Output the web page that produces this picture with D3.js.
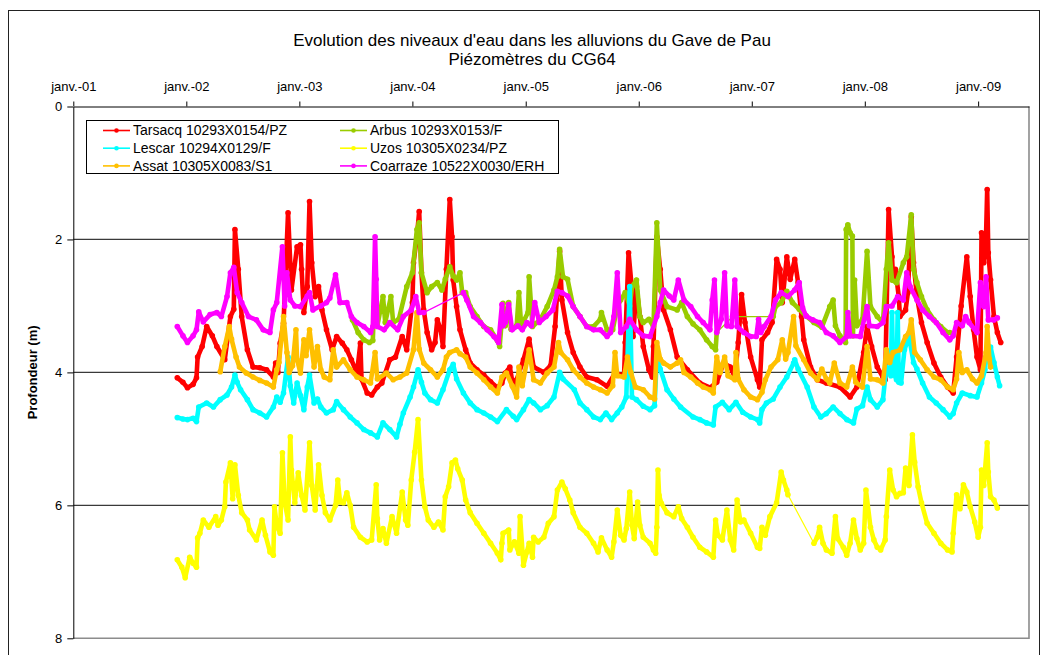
<!DOCTYPE html>
<html>
<head>
<meta charset="utf-8">
<script src="https://cdn.jsdelivr.net/npm/d3@7"></script>
<style>
  html, body { margin: 0; padding: 0; background: #fff; }
  svg { display: block; font-family: "Liberation Sans", Arial, Helvetica, sans-serif; }
</style>
</head>
<body>
<svg id="chart" width="1045" height="655"></svg>
<script>
// ---- Texts ----
const titleLines = ["Evolution des niveaux d'eau dans les alluvions du Gave de Pau", "Piézomètres du CG64"];
const yAxisTitle = "Profondeur (m)";
const xTickLabels = ["janv.-01", "janv.-02", "janv.-03", "janv.-04", "janv.-05", "janv.-06", "janv.-07", "janv.-08", "janv.-09"];
const yTickValues = [0, 2, 4, 6, 8];
const stationNames = ["Tarsacq 10293X0154/PZ", "Arbus 10293X0153/F", "Lescar 10294X0129/F",
                      "Uzos 10305X0234/PZ", "Assat 10305X0083/S1", "Coarraze 10522X0030/ERH"];

// ---- Depth to water (m below ground), [decimal year, depth] ----
const tarsacq = [[2001.92,4.08],[2001.97,4.15],[2002.01,4.23],[2002.06,4.18],[2002.09,4.08],[2002.10,3.77],[2002.14,3.61],[2002.18,3.31],[2002.23,3.45],[2002.27,3.61],[2002.34,3.81],[2002.39,3.16],[2002.42,3.05],[2002.43,1.85],[2002.46,2.45],[2002.49,3.16],[2002.54,3.66],[2002.59,3.92],[2002.65,3.93],[2002.71,3.96],[2002.77,4.07],[2002.79,3.86],[2002.81,4.00],[2002.83,3.56],[2002.86,3.26],[2002.90,1.60],[2002.93,2.76],[2002.98,2.11],[2003.01,2.08],[2003.02,2.45],[2003.04,3.10],[2003.07,2.71],[2003.09,1.43],[2003.11,2.35],[2003.14,2.86],[2003.17,2.71],[2003.20,3.06],[2003.24,3.36],[2003.29,3.66],[2003.33,3.46],[2003.38,3.56],[2003.42,3.66],[2003.46,3.81],[2003.51,4.01],[2003.54,3.56],[2003.55,4.10],[2003.60,4.31],[2003.64,4.34],[2003.69,4.22],[2003.73,4.16],[2003.80,3.81],[2003.85,3.77],[2003.91,3.46],[2003.95,3.66],[2004.00,2.95],[2004.01,2.35],[2004.04,1.96],[2004.06,1.58],[2004.08,2.50],[2004.10,3.06],[2004.13,3.40],[2004.17,3.66],[2004.20,3.55],[2004.22,3.21],[2004.25,3.36],[2004.27,3.61],[2004.30,2.45],[2004.33,1.40],[2004.35,1.96],[2004.36,2.61],[2004.39,3.01],[2004.42,3.36],[2004.47,3.66],[2004.51,3.86],[2004.57,3.96],[2004.63,4.04],[2004.69,4.14],[2004.75,4.23],[2004.79,4.16],[2004.82,4.01],[2004.86,3.92],[2004.89,4.22],[2004.92,4.11],[2004.98,3.81],[2005.03,3.50],[2005.07,3.92],[2005.16,4.00],[2005.22,3.90],[2005.26,3.31],[2005.30,2.18],[2005.32,2.91],[2005.37,3.40],[2005.42,3.70],[2005.48,3.92],[2005.54,4.07],[2005.63,4.11],[2005.72,4.21],[2005.79,4.01],[2005.87,4.05],[2005.88,3.55],[2005.91,2.20],[2005.94,2.76],[2005.95,3.46],[2005.98,2.71],[2006.01,3.16],[2006.04,3.61],[2006.09,3.96],[2006.12,4.07],[2006.13,3.61],[2006.16,1.96],[2006.19,2.45],[2006.22,3.06],[2006.28,3.36],[2006.34,3.77],[2006.43,3.96],[2006.54,4.16],[2006.63,4.23],[2006.69,4.15],[2006.75,3.86],[2006.81,3.92],[2006.85,4.07],[2006.88,3.55],[2006.91,2.83],[2006.94,3.25],[2006.99,3.77],[2007.05,4.11],[2007.07,4.22],[2007.09,3.51],[2007.14,3.40],[2007.18,3.25],[2007.22,2.30],[2007.25,2.45],[2007.27,2.95],[2007.31,2.26],[2007.34,2.60],[2007.38,2.30],[2007.41,2.65],[2007.44,3.16],[2007.46,3.51],[2007.52,3.92],[2007.58,4.11],[2007.66,4.16],[2007.78,4.22],[2007.87,4.37],[2007.93,4.22],[2007.99,3.70],[2008.02,3.31],[2008.06,3.61],[2008.11,3.92],[2008.16,4.07],[2008.18,4.11],[2008.21,1.55],[2008.24,2.26],[2008.25,2.61],[2008.27,2.45],[2008.30,2.86],[2008.31,3.16],[2008.36,3.06],[2008.38,2.80],[2008.41,1.66],[2008.43,2.35],[2008.46,2.86],[2008.50,3.25],[2008.55,3.55],[2008.61,3.86],[2008.67,4.07],[2008.73,4.22],[2008.78,4.31],[2008.81,3.77],[2008.85,3.00],[2008.90,2.26],[2008.93,2.86],[2008.96,3.36],[2008.99,3.77],[2009.02,3.96],[2009.03,1.90],[2009.05,2.35],[2009.07,1.95],[2009.08,1.25],[2009.09,2.20],[2009.11,2.61],[2009.14,3.16],[2009.17,3.40],[2009.20,3.55]];

const arbus = [[2003.47,3.21],[2003.52,3.40],[2003.57,3.51],[2003.62,3.55],[2003.65,3.52],[2003.67,2.55],[2003.69,3.30],[2003.74,2.86],[2003.76,3.25],[2003.81,2.86],[2003.83,3.25],[2003.88,3.20],[2003.95,2.71],[2004.00,2.50],[2004.04,1.85],[2004.06,1.75],[2004.08,2.50],[2004.13,2.80],[2004.17,2.71],[2004.22,2.65],[2004.26,2.76],[2004.29,2.60],[2004.33,2.41],[2004.36,2.55],[2004.39,2.61],[2004.42,2.50],[2004.44,2.80],[2004.47,2.80],[2004.51,3.01],[2004.57,3.16],[2004.63,3.31],[2004.69,3.36],[2004.75,3.52],[2004.77,3.61],[2004.79,3.20],[2004.80,2.96],[2004.82,3.30],[2004.85,2.95],[2004.87,3.35],[2004.92,3.30],[2004.94,2.80],[2004.96,3.30],[2005.02,3.10],[2005.03,2.56],[2005.06,3.31],[2005.13,3.20],[2005.19,3.01],[2005.25,2.76],[2005.28,2.56],[2005.30,2.15],[2005.33,2.56],[2005.37,2.60],[2005.42,3.01],[2005.48,3.16],[2005.54,3.31],[2005.60,3.31],[2005.66,3.20],[2005.67,3.10],[2005.72,3.36],[2005.77,3.36],[2005.81,3.01],[2005.84,2.91],[2005.88,2.80],[2005.92,3.00],[2005.94,2.71],[2005.98,2.61],[2006.01,3.16],[2006.04,3.25],[2006.09,3.20],[2006.13,3.31],[2006.16,1.75],[2006.19,2.76],[2006.25,3.01],[2006.34,3.06],[2006.38,2.95],[2006.43,3.16],[2006.48,3.27],[2006.54,3.36],[2006.60,3.51],[2006.65,3.61],[2006.68,3.66],[2006.69,3.40],[2006.83,3.16],[2007.19,3.16],[2007.21,3.01],[2007.26,2.95],[2007.31,2.78],[2007.36,2.95],[2007.42,3.05],[2007.48,3.15],[2007.55,3.25],[2007.62,3.32],[2007.69,3.01],[2007.72,2.91],[2007.74,3.30],[2007.78,3.45],[2007.83,3.55],[2007.835,1.85],[2007.85,1.78],[2007.87,1.90],[2007.89,1.95],[2007.895,3.45],[2007.91,2.61],[2007.93,3.30],[2007.98,3.20],[2008.02,2.18],[2008.05,3.01],[2008.11,3.16],[2008.16,3.25],[2008.19,2.45],[2008.21,2.05],[2008.24,2.61],[2008.28,2.65],[2008.34,2.35],[2008.37,2.26],[2008.41,1.63],[2008.43,2.45],[2008.46,2.65],[2008.50,2.86],[2008.55,3.06],[2008.61,3.21],[2008.67,3.31],[2008.73,3.40],[2008.75,3.40]];

const lescar = [[2001.92,4.68],[2001.97,4.70],[2002.01,4.71],[2002.06,4.69],[2002.09,4.74],[2002.11,4.52],[2002.18,4.46],[2002.24,4.52],[2002.30,4.41],[2002.36,4.34],[2002.40,4.22],[2002.43,4.04],[2002.45,4.15],[2002.48,4.26],[2002.54,4.41],[2002.59,4.56],[2002.65,4.61],[2002.71,4.67],[2002.77,4.52],[2002.80,4.37],[2002.83,4.45],[2002.86,4.31],[2002.90,3.77],[2002.92,4.20],[2002.95,4.46],[2002.98,4.16],[2003.01,4.35],[2003.04,4.56],[2003.07,4.22],[2003.09,4.04],[2003.13,4.46],[2003.16,4.40],[2003.19,4.52],[2003.24,4.61],[2003.30,4.56],[2003.33,4.44],[2003.39,4.56],[2003.45,4.67],[2003.51,4.76],[2003.57,4.86],[2003.63,4.91],[2003.69,4.97],[2003.74,4.76],[2003.80,4.86],[2003.86,4.97],[2003.89,4.78],[2003.92,4.61],[2003.98,4.37],[2004.01,4.22],[2004.05,3.96],[2004.08,4.15],[2004.11,4.31],[2004.16,4.41],[2004.22,4.46],[2004.27,4.26],[2004.33,3.96],[2004.36,3.88],[2004.39,4.10],[2004.45,4.31],[2004.51,4.46],[2004.57,4.56],[2004.63,4.61],[2004.69,4.67],[2004.75,4.74],[2004.83,4.56],[2004.89,4.66],[2004.92,4.71],[2004.98,4.56],[2005.03,4.41],[2005.07,4.46],[2005.13,4.56],[2005.19,4.50],[2005.25,4.37],[2005.30,4.00],[2005.33,4.10],[2005.43,4.26],[2005.48,4.46],[2005.54,4.56],[2005.60,4.67],[2005.66,4.71],[2005.71,4.61],[2005.76,4.71],[2005.81,4.61],[2005.85,4.52],[2005.89,4.37],[2005.92,2.71],[2005.94,4.37],[2005.98,4.41],[2006.04,4.51],[2006.10,4.56],[2006.14,4.50],[2006.16,3.77],[2006.19,3.95],[2006.25,4.26],[2006.31,4.40],[2006.37,4.52],[2006.48,4.67],[2006.54,4.71],[2006.60,4.76],[2006.66,4.79],[2006.68,4.52],[2006.74,4.45],[2006.80,4.56],[2006.86,4.45],[2006.92,4.60],[2006.99,4.67],[2007.05,4.71],[2007.07,4.76],[2007.09,4.56],[2007.13,4.46],[2007.19,4.40],[2007.25,4.22],[2007.31,4.07],[2007.37,3.86],[2007.38,3.81],[2007.41,3.95],[2007.49,4.22],[2007.55,4.52],[2007.61,4.67],[2007.66,4.62],[2007.72,4.52],[2007.78,4.62],[2007.84,4.71],[2007.90,4.76],[2007.93,4.55],[2007.98,4.50],[2008.02,4.22],[2008.05,4.41],[2008.11,4.52],[2008.16,4.41],[2008.19,3.92],[2008.23,4.05],[2008.24,3.10],[2008.25,4.00],[2008.28,4.11],[2008.29,3.10],[2008.30,4.15],[2008.32,4.16],[2008.35,3.66],[2008.39,3.46],[2008.43,3.85],[2008.46,3.95],[2008.51,4.16],[2008.57,4.37],[2008.63,4.46],[2008.69,4.56],[2008.75,4.67],[2008.78,4.62],[2008.81,4.46],[2008.86,4.31],[2008.93,4.35],[2008.99,4.37],[2009.03,4.16],[2009.06,3.96],[2009.08,3.66],[2009.11,3.62],[2009.14,3.85],[2009.17,4.07],[2009.19,4.20]];

const uzos = [[2001.92,6.82],[2001.96,6.93],[2001.99,7.09],[2002.03,6.78],[2002.06,6.87],[2002.09,6.93],[2002.10,6.49],[2002.12,6.42],[2002.15,6.22],[2002.20,6.33],[2002.26,6.17],[2002.28,6.30],[2002.31,6.22],[2002.34,6.02],[2002.35,5.65],[2002.39,5.36],[2002.41,5.90],[2002.43,5.39],[2002.46,5.85],[2002.49,6.11],[2002.54,6.22],[2002.56,6.37],[2002.62,6.52],[2002.67,6.22],[2002.70,6.45],[2002.74,6.70],[2002.77,6.75],[2002.78,6.02],[2002.80,6.30],[2002.83,6.42],[2002.85,5.21],[2002.87,5.95],[2002.90,6.22],[2002.92,4.97],[2002.93,5.47],[2002.96,5.96],[2002.99,5.51],[2003.02,5.85],[2003.05,6.07],[2003.09,5.06],[2003.11,5.70],[2003.14,6.07],[2003.17,5.39],[2003.20,5.85],[2003.23,6.11],[2003.27,6.22],[2003.32,6.00],[2003.34,5.62],[2003.36,5.95],[2003.39,5.96],[2003.42,5.81],[2003.45,6.00],[2003.48,6.33],[2003.54,6.48],[2003.60,6.55],[2003.64,6.52],[2003.68,5.69],[2003.69,6.20],[2003.71,6.52],[2003.74,6.35],[2003.77,6.57],[2003.82,6.17],[2003.86,6.42],[2003.91,5.80],[2003.94,6.22],[2003.96,6.30],[2003.99,5.62],[2004.02,5.20],[2004.05,4.71],[2004.08,5.62],[2004.11,6.02],[2004.14,6.22],[2004.19,6.33],[2004.23,6.25],[2004.27,6.37],[2004.29,5.87],[2004.32,5.72],[2004.35,5.36],[2004.38,5.32],[2004.40,5.45],[2004.44,5.62],[2004.47,5.92],[2004.51,6.11],[2004.57,6.27],[2004.63,6.42],[2004.69,6.57],[2004.75,6.72],[2004.78,6.82],[2004.79,6.57],[2004.80,6.42],[2004.85,6.37],[2004.86,6.67],[2004.90,6.55],[2004.94,6.72],[2004.95,6.17],[2004.98,6.90],[2005.01,6.70],[2005.03,6.57],[2005.06,6.78],[2005.07,6.48],[2005.11,6.55],[2005.16,6.48],[2005.20,6.27],[2005.25,6.17],[2005.28,5.77],[2005.32,5.65],[2005.35,5.75],[2005.39,5.92],[2005.42,6.11],[2005.48,6.33],[2005.54,6.42],[2005.60,6.57],[2005.64,6.70],[2005.67,6.49],[2005.72,6.67],[2005.76,6.78],[2005.78,6.55],[2005.81,6.07],[2005.84,6.45],[2005.87,6.52],[2005.89,6.35],[2005.92,5.80],[2005.94,6.30],[2005.96,6.50],[2005.99,5.95],[2006.01,6.30],[2006.04,6.48],[2006.10,6.57],[2006.13,6.67],[2006.15,6.72],[2006.16,6.33],[2006.17,5.47],[2006.18,5.85],[2006.20,5.97],[2006.25,6.11],[2006.31,6.17],[2006.35,6.02],[2006.38,6.20],[2006.43,6.33],[2006.48,6.48],[2006.54,6.63],[2006.60,6.70],[2006.66,6.78],[2006.68,6.22],[2006.70,6.45],[2006.74,6.52],[2006.78,6.07],[2006.81,6.52],[2006.84,6.67],[2006.87,5.92],[2006.90,6.25],[2006.93,6.22],[2006.99,6.42],[2007.05,6.63],[2007.07,6.65],[2007.09,6.33],[2007.12,6.45],[2007.16,6.17],[2007.22,5.96],[2007.26,5.50],[2007.28,5.62],[2007.31,5.77],[2007.32,5.84],[2007.55,6.57],[2007.58,6.48],[2007.60,6.33],[2007.63,6.57],[2007.66,6.67],[2007.71,6.72],[2007.74,6.17],[2007.76,6.50],[2007.81,6.63],[2007.84,6.75],[2007.87,6.57],[2007.90,6.22],[2007.93,6.50],[2007.96,6.67],[2007.99,6.57],[2008.01,5.77],[2008.05,6.33],[2008.08,6.52],[2008.11,6.63],[2008.14,6.67],[2008.18,6.52],[2008.19,6.17],[2008.22,5.47],[2008.25,5.77],[2008.28,5.87],[2008.31,5.82],[2008.34,5.81],[2008.36,5.44],[2008.39,5.70],[2008.42,4.94],[2008.44,5.35],[2008.47,5.72],[2008.50,5.96],[2008.55,6.27],[2008.61,6.42],[2008.67,6.57],[2008.73,6.67],[2008.77,6.70],[2008.78,6.42],[2008.81,5.84],[2008.84,6.05],[2008.87,5.69],[2008.90,5.80],[2008.93,6.02],[2008.97,6.25],[2009.00,6.48],[2009.02,6.33],[2009.03,5.47],[2009.05,5.70],[2009.08,5.06],[2009.09,5.50],[2009.11,5.87],[2009.14,5.92],[2009.17,6.04]];

const assat = [[2002.30,3.99],[2002.34,3.61],[2002.38,3.31],[2002.40,3.50],[2002.44,3.77],[2002.47,3.92],[2002.53,4.01],[2002.59,4.07],[2002.65,4.12],[2002.71,4.16],[2002.77,4.22],[2002.80,3.96],[2002.82,3.85],[2002.86,3.16],[2002.89,3.70],[2002.91,4.00],[2002.94,3.90],[2002.97,3.36],[2002.98,3.81],[2003.01,4.01],[2003.04,3.51],[2003.06,3.75],[2003.09,3.36],[2003.13,3.92],[2003.16,3.61],[2003.19,3.96],[2003.22,4.07],[2003.27,4.11],[2003.30,3.66],[2003.33,3.92],[2003.39,3.81],[2003.45,3.96],[2003.51,4.07],[2003.57,4.11],[2003.63,4.16],[2003.67,3.70],[2003.69,4.10],[2003.77,4.01],[2003.83,4.11],[2003.89,4.07],[2003.95,4.01],[2004.01,3.66],[2004.04,3.10],[2004.06,3.65],[2004.10,3.86],[2004.16,3.96],[2004.22,4.07],[2004.27,3.96],[2004.30,3.77],[2004.33,3.70],[2004.39,3.66],[2004.42,3.72],[2004.47,3.77],[2004.51,3.92],[2004.57,4.01],[2004.63,4.11],[2004.69,4.22],[2004.75,4.31],[2004.79,4.07],[2004.83,4.01],[2004.88,4.20],[2004.92,4.37],[2004.94,3.92],[2004.97,4.20],[2005.03,3.66],[2005.07,4.11],[2005.13,4.16],[2005.19,4.01],[2005.25,3.92],[2005.29,3.55],[2005.31,3.70],[2005.37,3.81],[2005.42,3.96],[2005.48,4.07],[2005.54,4.16],[2005.60,4.22],[2005.66,4.26],[2005.72,4.31],[2005.77,4.20],[2005.79,3.70],[2005.81,4.05],[2005.87,4.07],[2005.90,3.77],[2005.93,4.00],[2005.97,4.22],[2006.04,4.26],[2006.10,4.37],[2006.14,4.40],[2006.16,3.55],[2006.19,3.80],[2006.22,3.86],[2006.28,3.92],[2006.34,3.86],[2006.37,3.81],[2006.40,4.00],[2006.46,4.07],[2006.52,4.16],[2006.57,4.22],[2006.63,4.26],[2006.66,4.31],[2006.69,3.77],[2006.72,4.00],[2006.76,3.77],[2006.79,4.05],[2006.85,4.11],[2006.86,3.70],[2006.88,4.10],[2006.93,4.26],[2006.99,4.37],[2007.05,4.41],[2007.09,4.30],[2007.12,4.11],[2007.17,3.92],[2007.23,3.81],[2007.27,3.51],[2007.30,3.80],[2007.32,3.70],[2007.37,3.16],[2007.39,3.60],[2007.46,3.81],[2007.52,4.01],[2007.58,4.11],[2007.62,3.95],[2007.66,4.10],[2007.69,4.16],[2007.73,3.86],[2007.78,4.16],[2007.84,4.22],[2007.89,3.92],[2007.92,4.15],[2007.98,4.22],[2008.02,3.61],[2008.05,4.10],[2008.11,4.11],[2008.16,4.16],[2008.19,3.66],[2008.22,3.85],[2008.25,3.70],[2008.31,3.66],[2008.36,3.46],[2008.39,3.40],[2008.41,3.21],[2008.44,3.70],[2008.49,3.81],[2008.55,3.96],[2008.61,4.07],[2008.67,4.11],[2008.73,4.22],[2008.78,4.26],[2008.81,4.10],[2008.83,3.70],[2008.86,4.00],[2008.90,3.96],[2008.95,4.10],[2008.99,4.16],[2009.03,4.05],[2009.07,3.70],[2009.08,3.31],[2009.10,3.80],[2009.11,3.92]];

const coarraze = [[2001.92,3.31],[2001.97,3.45],[2002.01,3.55],[2002.06,3.45],[2002.09,3.36],[2002.11,3.09],[2002.15,3.24],[2002.21,3.13],[2002.27,3.10],[2002.31,3.16],[2002.36,2.86],[2002.39,2.50],[2002.42,2.42],[2002.45,2.80],[2002.49,2.95],[2002.55,3.16],[2002.62,3.21],[2002.68,3.36],[2002.74,3.40],[2002.77,3.06],[2002.80,2.95],[2002.85,2.11],[2002.87,3.00],[2002.89,2.50],[2002.92,2.91],[2002.96,3.00],[2003.01,3.01],[2003.07,2.85],[2003.09,2.80],[2003.12,3.06],[2003.19,3.00],[2003.24,2.95],[2003.27,2.88],[2003.32,2.53],[2003.36,2.95],[2003.42,2.95],[2003.46,3.16],[2003.51,3.25],[2003.57,3.31],[2003.63,3.40],[2003.65,3.31],[2003.67,1.96],[2003.68,2.60],[2003.69,3.31],[2003.75,3.36],[2003.80,3.25],[2003.87,3.36],[2003.92,3.16],[2003.99,3.06],[2004.03,2.86],[2004.06,3.10],[2004.10,3.10],[2004.45,2.80],[2004.48,2.91],[2004.54,3.16],[2004.60,3.25],[2004.66,3.36],[2004.72,3.46],[2004.76,3.55],[2004.79,2.98],[2004.80,3.30],[2004.82,3.25],[2004.85,2.98],[2004.88,3.36],[2004.93,3.30],[2004.97,3.36],[2005.01,3.25],[2005.05,3.30],[2005.08,2.95],[2005.12,3.25],[2005.18,3.16],[2005.24,3.06],[2005.28,2.78],[2005.32,2.80],[2005.37,2.85],[2005.42,3.01],[2005.48,3.16],[2005.54,3.31],[2005.60,3.36],[2005.66,3.36],[2005.72,3.46],[2005.75,3.40],[2005.78,3.16],[2005.81,2.50],[2005.84,3.40],[2005.89,3.31],[2005.92,3.20],[2005.98,3.36],[2006.04,3.45],[2006.10,3.46],[2006.16,3.16],[2006.19,2.95],[2006.22,2.76],[2006.27,2.85],[2006.31,2.91],[2006.35,2.61],[2006.40,2.91],[2006.46,3.01],[2006.52,3.16],[2006.57,3.25],[2006.63,3.36],[2006.65,2.91],[2006.67,2.61],[2006.69,3.40],[2006.73,3.20],[2006.76,2.50],[2006.78,3.30],[2006.82,3.31],[2006.85,2.61],[2006.87,3.31],[2006.93,3.40],[2006.99,3.46],[2007.04,3.46],[2007.06,3.20],[2007.08,3.40],[2007.11,3.31],[2007.17,3.16],[2007.21,2.91],[2007.26,2.80],[2007.32,2.86],[2007.38,2.76],[2007.42,2.65],[2007.45,3.03],[2007.48,3.15],[2007.54,3.21],[2007.60,3.25],[2007.66,3.40],[2007.72,3.45],[2007.78,3.55],[2007.84,3.46],[2007.85,3.10],[2007.87,3.45],[2007.96,3.46],[2008.02,3.01],[2008.04,3.30],[2008.11,3.31],[2008.16,3.25],[2008.19,3.01],[2008.24,3.00],[2008.29,2.86],[2008.34,2.91],[2008.37,2.50],[2008.40,2.71],[2008.46,2.91],[2008.51,3.06],[2008.57,3.16],[2008.63,3.25],[2008.69,3.40],[2008.75,3.51],[2008.78,3.45],[2008.81,3.25],[2008.86,3.30],[2008.89,3.16],[2008.92,3.25],[2008.99,3.40],[2009.02,2.65],[2009.05,3.01],[2009.07,2.56],[2009.09,3.21],[2009.14,3.21],[2009.17,3.18]];

// Series in plotting order (later ones drawn on top)
const seriesValues = [tarsacq, arbus, lescar, uzos, assat, coarraze];

// ---- Styling ----
const seriesColours = ["#FF0000", "#99CC00", "#00FFFF", "#FFFF00", "#FFC000", "#FF00FF"];
const W = 1045, H = 655;
const plot = { left: 73.3, right: 1029, top: 106.5, bottom: 638.3 };
const gapYears = 0.13;   // longer intervals are treated as missing records

function fromDecimalYear(t) {
  const y = Math.floor(t);
  const a = Date.UTC(y, 0, 1), b = Date.UTC(y + 1, 0, 1);
  return new Date(a + (t - y) * (b - a));
}

const svg = d3.select("#chart");
svg.append("rect").attr("width", W).attr("height", H).attr("fill", "#fff");

// Outer chart frame
svg.append("rect")
  .attr("x", 8.5).attr("y", 10.5).attr("width", 1031).attr("height", 700)
  .attr("fill", "none").attr("stroke", "#222").attr("stroke-width", 1);

const x = d3.scaleUtc()
  .domain([new Date(Date.UTC(2001, 0, 1)), fromDecimalYear(2009.45)])
  .range([plot.left, plot.right]);
const y = d3.scaleLinear().domain([0, 8]).range([plot.top, plot.bottom]);

// Title
svg.append("g").selectAll("text").data(titleLines).join("text")
  .attr("x", 532).attr("y", (d, i) => 46 + i * 18.5)
  .attr("text-anchor", "middle").attr("font-size", 17).attr("fill", "#000")
  .text(d => d);

// Horizontal gridlines
svg.append("g").selectAll("line").data(yTickValues.filter(v => v > 0 && v < 8)).join("line")
  .attr("x1", plot.left).attr("x2", plot.right)
  .attr("y1", d => y(d)).attr("y2", d => y(d))
  .attr("stroke", "#3a3a3a").attr("stroke-width", 1.3);

// Plot-area border (right and bottom)
svg.append("path")
  .attr("d", `M${plot.left},${plot.bottom}H${plot.right}V${plot.top}`)
  .attr("fill", "none").attr("stroke", "#8c8c8c").attr("stroke-width", 1.6);

// Series
const line = d3.line().x(p => x(p.d)).y(p => y(p.v));
seriesValues.forEach((vals, i) => {
  const colour = seriesColours[i];
  const pts = vals.map(([t, v]) => ({ t, v, d: fromDecimalYear(t) }));
  const runs = [];
  let cur = [pts[0]];
  for (let k = 1; k < pts.length; k++) {
    if (pts[k].t - pts[k - 1].t > gapYears) { runs.push(cur); cur = [pts[k]]; }
    else cur.push(pts[k]);
  }
  runs.push(cur);

  const g = svg.append("g").attr("class", "series");
  // dense daily records read as a thick band of markers
  g.selectAll("path.band").data(runs.filter(r => r.length > 1)).join("path")
    .attr("class", "band").attr("d", line)
    .attr("fill", "none").attr("stroke", colour).attr("stroke-width", 4.6)
    .attr("stroke-linejoin", "round").attr("stroke-linecap", "round");
  g.append("path").datum(pts).attr("d", line)
    .attr("fill", "none").attr("stroke", colour).attr("stroke-width", 1.2);
  g.selectAll("circle").data(pts).join("circle")
    .attr("cx", p => x(p.d)).attr("cy", p => y(p.v)).attr("r", 2.8)
    .attr("fill", colour);
});

// Top (date) axis
const yearTicks = d3.range(2001, 2010).map(yr => new Date(Date.UTC(yr, 0, 1)));
const xAxis = d3.axisTop(x).tickValues(yearTicks)
  .tickFormat((d, i) => xTickLabels[i]).tickSize(5).tickSizeOuter(0).tickPadding(11);
const gx = svg.append("g").attr("transform", `translate(0,${plot.top})`).call(xAxis);
gx.selectAll("text").attr("font-size", 13).attr("fill", "#000").attr("font-family", null);
gx.selectAll("line, path").attr("stroke", "#000");

// Left (depth) axis
const yAxis = d3.axisLeft(y).tickValues(yTickValues).tickFormat(d3.format("d"))
  .tickSize(6).tickSizeOuter(0).tickPadding(5);
const gy = svg.append("g").attr("transform", `translate(${plot.left},0)`).call(yAxis);
gy.selectAll("text").attr("font-size", 13).attr("fill", "#000").attr("font-family", null);
gy.selectAll("line, path").attr("stroke", "#000");

// Axis title
svg.append("text")
  .attr("transform", `translate(36.5,${(plot.top + plot.bottom) / 2}) rotate(-90)`)
  .attr("text-anchor", "middle").attr("font-size", 13).attr("font-weight", "bold")
  .text(yAxisTitle);

// Legend
const legend = svg.append("g");
legend.append("rect").attr("x", 86.5).attr("y", 120.5).attr("width", 472).attr("height", 53)
  .attr("fill", "#fff").attr("stroke", "#000").attr("stroke-width", 1);
const items = legend.selectAll("g.item").data(stationNames).join("g")
  .attr("class", "item")
  .attr("transform", (d, i) => `translate(${i % 2 === 0 ? 103 : 340},${130.5 + Math.floor(i / 2) * 17.7})`);
items.append("line").attr("x1", 0).attr("x2", 27).attr("y1", 0).attr("y2", 0)
  .attr("stroke", (d, i) => seriesColours[i]).attr("stroke-width", 1.6);
items.append("circle").attr("cx", 13.5).attr("cy", 0).attr("r", 2.3)
  .attr("fill", (d, i) => seriesColours[i]);
items.append("text").attr("x", 30).attr("y", 0).attr("dy", "0.35em")
  .attr("font-size", 14).attr("fill", "#000").text(d => d);
</script>
</body>
</html>
